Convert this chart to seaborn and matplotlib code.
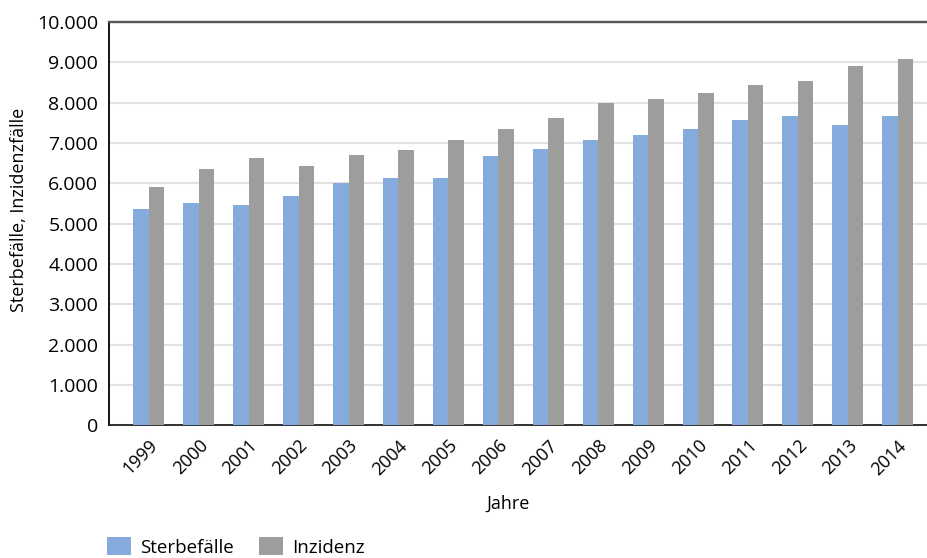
import pandas as pd
import seaborn as sns
import matplotlib.pyplot as plt
from matplotlib.patches import Patch

# Daten
jahre = ['1999', '2000', '2001', '2002', '2003', '2004', '2005', '2006',
         '2007', '2008', '2009', '2010', '2011', '2012', '2013', '2014']
sterbefaelle = [5360, 5510, 5460, 5680, 6000, 6130, 6130, 6670,
                6850, 7070, 7210, 7360, 7560, 7660, 7460, 7660]
inzidenz = [5900, 6350, 6620, 6420, 6700, 6840, 7070, 7360,
            7610, 8000, 8100, 8250, 8450, 8550, 8920, 9090]
serien = ['Sterbefälle', 'Inzidenz']
farben = ['#84ABDC', '#9D9D9B']
y_ticks = [0, 1000, 2000, 3000, 4000, 5000, 6000, 7000, 8000, 9000, 10000]

df = pd.DataFrame({'Jahr': jahre * 2,
                   'Wert': sterbefaelle + inzidenz,
                   'Serie': [serien[0]] * len(jahre) + [serien[1]] * len(jahre)})

sns.set_style('white')
plt.rcParams['font.family'] = ['Open Sans', 'DejaVu Sans']
plt.rcParams['text.color'] = 'black'
plt.rcParams['axes.labelcolor'] = 'black'
plt.rcParams['xtick.color'] = 'black'
plt.rcParams['ytick.color'] = 'black'

fig = plt.figure(figsize=(9.27, 5.58), dpi=100)
ax = fig.add_axes([0.118, 0.2375, 0.893, 0.723])

sns.barplot(data=df, x='Jahr', y='Wert', hue='Serie', hue_order=serien,
            palette=farben, width=0.62, gap=0, saturation=1, ax=ax,
            legend=False, edgecolor='none', linewidth=0, zorder=3)

ax.set_xlim(-0.79, 15.79)
ax.set_ylim(0, 10000)
ax.set_yticks(y_ticks)
ax.set_yticklabels([f'{v:,.0f}'.replace(',', '.') for v in y_ticks], fontsize=14)
ax.set_xticks(range(len(jahre)))
ax.set_xticklabels(jahre, rotation=45, fontsize=13, ha='right', va='top',
                   rotation_mode='anchor')
ax.tick_params(axis='x', pad=8, length=0)
ax.tick_params(axis='y', pad=8, length=0)
ax.yaxis.grid(True, color='#E2E2E2', linewidth=1.5, zorder=0)
ax.set_axisbelow(True)

ax.spines['left'].set_color('black')
ax.spines['left'].set_linewidth(1.3)
ax.spines['bottom'].set_color('#222222')
ax.spines['bottom'].set_linewidth(1.3)
ax.spines['top'].set_color('#555555')
ax.spines['top'].set_linewidth(1.7)
ax.spines['right'].set_visible(False)

ax.set_xlabel('Jahre', fontsize=13)
ax.xaxis.set_label_coords(0.481, -0.172)
ax.set_ylabel('Sterbefälle, Inzidenzfälle', fontsize=13)
ax.yaxis.set_label_coords(-0.098, 0.534)

handles = [Patch(facecolor=c, edgecolor='none') for c in farben]
fig.legend(handles, serien, loc='center left', bbox_to_anchor=(0.1154, 0.0197),
           ncol=2, frameon=False, fontsize=13.5, handlelength=1.28,
           handleheight=1.1, handletextpad=0.48, columnspacing=1.33,
           borderpad=0, borderaxespad=0)

plt.savefig('out.png', dpi=100)
